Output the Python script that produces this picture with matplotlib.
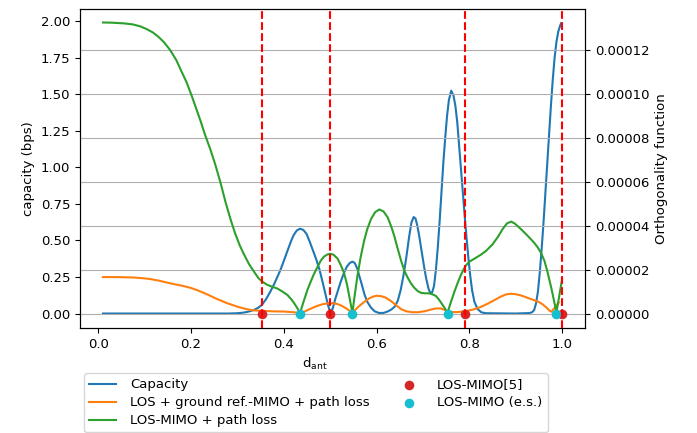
import matplotlib
matplotlib.use('Agg')
import matplotlib.pyplot as plt
import numpy as np

# capacity curve (left axis, bps)
cap_x = [0.01, 0.10, 0.20, 0.28, 0.300, 0.310, 0.320, 0.328, 0.336, 0.345, 0.353, 0.362, 0.371,
         0.379, 0.386, 0.393, 0.400, 0.408, 0.415, 0.421, 0.428, 0.435, 0.442, 0.449, 0.456,
         0.463, 0.470, 0.477, 0.484, 0.490, 0.495, 0.501, 0.506, 0.511, 0.516, 0.523, 0.530,
         0.536, 0.542, 0.548, 0.553, 0.558, 0.563, 0.568, 0.574, 0.580, 0.588, 0.596, 0.605,
         0.615, 0.625, 0.633, 0.640, 0.646, 0.652, 0.658, 0.664, 0.670, 0.675, 0.680, 0.684,
         0.688, 0.692, 0.697, 0.702, 0.707, 0.712, 0.716, 0.720, 0.724, 0.728, 0.732, 0.736,
         0.740, 0.744, 0.748, 0.752, 0.756, 0.761, 0.766, 0.770, 0.774, 0.778, 0.782, 0.786,
         0.790, 0.794, 0.798, 0.802, 0.806, 0.811, 0.818, 0.826, 0.836, 0.900, 0.930, 0.936,
         0.940, 0.944, 0.948, 0.952, 0.956, 0.960, 0.964, 0.968, 0.972, 0.976, 0.980, 0.984,
         0.988, 0.992, 0.996, 0.998]
cap_y = [0.0, 0.0, 0.0, 0.0, 0.002, 0.005, 0.01, 0.017, 0.025, 0.04, 0.06, 0.10, 0.15,
         0.20, 0.25, 0.30, 0.36, 0.43, 0.49, 0.535, 0.568, 0.58, 0.572, 0.545, 0.49,
         0.43, 0.37, 0.30, 0.21, 0.13, 0.06, 0.0, 0.04, 0.10, 0.15, 0.22, 0.28,
         0.32, 0.345, 0.355, 0.345, 0.31, 0.255, 0.20, 0.13, 0.08, 0.04, 0.015, 0.004,
         0.004, 0.015, 0.03, 0.05, 0.09, 0.16, 0.26, 0.38, 0.52, 0.62, 0.66, 0.65,
         0.60, 0.53, 0.43, 0.33, 0.24, 0.17, 0.14, 0.145, 0.19, 0.30, 0.45, 0.63,
         0.83, 1.03, 1.20, 1.35, 1.46, 1.524, 1.49, 1.42, 1.31, 1.15, 0.99, 0.83,
         0.67, 0.52, 0.38, 0.26, 0.16, 0.08, 0.03, 0.008, 0.002, 0.0, 0.003, 0.01,
         0.025, 0.07, 0.15, 0.28, 0.44, 0.62, 0.82, 1.02, 1.22, 1.42, 1.60, 1.75,
         1.86, 1.93, 1.97, 1.985]

# orthogonality function curves (right axis, x1e-5)
ground_x = [0.01, 0.04, 0.076, 0.095, 0.112, 0.130, 0.148, 0.165, 0.180, 0.199, 0.215, 0.235,
            0.255, 0.278, 0.300, 0.321, 0.337, 0.353, 0.375, 0.400, 0.420, 0.435, 0.446, 0.458,
            0.470, 0.483, 0.494, 0.505, 0.516, 0.525, 0.534, 0.541, 0.546, 0.553, 0.562, 0.573,
            0.585, 0.594, 0.601, 0.610, 0.620, 0.631, 0.642, 0.653, 0.664, 0.677, 0.690, 0.703,
            0.717, 0.728, 0.739, 0.746, 0.753, 0.762, 0.771, 0.782, 0.793, 0.810, 0.825, 0.840,
            0.855, 0.868, 0.879, 0.890, 0.900, 0.912, 0.925, 0.938, 0.948, 0.958, 0.966, 0.972,
            0.977, 0.982, 0.988, 0.993]
ground_y = [1.66, 1.66, 1.64, 1.61, 1.57, 1.50, 1.41, 1.33, 1.27, 1.17, 1.05, 0.87,
            0.67, 0.47, 0.31, 0.19, 0.14, 0.12, 0.10, 0.09, 0.06, 0.02, 0.10, 0.22,
            0.33, 0.42, 0.46, 0.47, 0.43, 0.35, 0.24, 0.14, 0.05, 0.15, 0.33, 0.52,
            0.70, 0.78, 0.81, 0.79, 0.72, 0.57, 0.38, 0.20, 0.10, 0.06, 0.06, 0.10,
            0.18, 0.23, 0.23, 0.17, 0.12, 0.07, 0.06, 0.08, 0.11, 0.19, 0.30, 0.45,
            0.62, 0.77, 0.87, 0.90, 0.88, 0.82, 0.72, 0.62, 0.55, 0.42, 0.28, 0.15,
            0.08, 0.20, 0.38, 0.50]

los_x = [0.01, 0.03, 0.055, 0.075, 0.091, 0.105, 0.118, 0.130, 0.142, 0.155, 0.168, 0.180,
         0.190, 0.200, 0.210, 0.220, 0.230, 0.242, 0.252, 0.263, 0.274, 0.285, 0.295, 0.305,
         0.314, 0.325, 0.336, 0.345, 0.353, 0.364, 0.375, 0.386, 0.397, 0.408, 0.416, 0.422,
         0.429, 0.435, 0.442, 0.451, 0.458, 0.465, 0.473, 0.480, 0.487, 0.494, 0.500, 0.507,
         0.516, 0.523, 0.530, 0.536, 0.541, 0.545, 0.548, 0.553, 0.559, 0.566, 0.573, 0.580,
         0.588, 0.597, 0.606, 0.615, 0.624, 0.631, 0.638, 0.645, 0.653, 0.660, 0.667, 0.674,
         0.681, 0.689, 0.696, 0.705, 0.713, 0.720, 0.728, 0.734, 0.739, 0.746, 0.753, 0.760,
         0.768, 0.775, 0.782, 0.788, 0.793, 0.800, 0.808, 0.815, 0.825, 0.836, 0.850, 0.862,
         0.872, 0.881, 0.890, 0.898, 0.906, 0.916, 0.930, 0.940, 0.948, 0.955, 0.962, 0.968,
         0.973, 0.977, 0.982, 0.988, 0.994, 1.0]
los_y = [13.26, 13.25, 13.22, 13.17, 13.08, 12.95, 12.80, 12.60, 12.35, 12.00, 11.55, 11.00,
         10.55, 10.00, 9.40, 8.80, 8.15, 7.45, 6.80, 6.00, 5.10, 4.30, 3.65, 3.10,
         2.70, 2.25, 1.90, 1.62, 1.46, 1.31, 1.22, 1.14, 1.00, 0.84, 0.65, 0.48,
         0.25, 0.02, 0.50, 1.08, 1.45, 1.80, 2.14, 2.42, 2.60, 2.69, 2.72, 2.68,
         2.50, 2.20, 1.84, 1.35, 0.80, 0.35, 0.05, 0.85, 1.75, 2.60, 3.30, 3.85,
         4.30, 4.62, 4.74, 4.65, 4.38, 4.00, 3.55, 3.00, 2.40, 1.95, 1.64, 1.38,
         1.18, 1.02, 0.94, 0.92, 0.92, 0.88, 0.80, 0.65, 0.50, 0.28, 0.03, 0.50,
         1.00, 1.40, 1.76, 2.02, 2.20, 2.36, 2.46, 2.55, 2.68, 2.85, 3.15, 3.50,
         3.85, 4.10, 4.19, 4.10, 3.95, 3.75, 3.45, 3.22, 3.00, 2.75, 2.40, 1.95,
         1.50, 1.15, 0.65, 0.05, 0.80, 1.55]

ref_x = [0.353, 0.5, 0.79, 1.0]       # LOS-MIMO[5]
es_x = [0.435, 0.548, 0.753, 0.987]   # LOS-MIMO (e.s.)

plt.rcParams['font.size'] = 9.5

fig = plt.figure(figsize=(6.97, 4.33), dpi=100)
ax1 = fig.add_axes([0.1148, 0.2425, 0.7245, 0.7365])
ax2 = ax1.twinx()

l1, = ax1.plot(cap_x, cap_y, color='tab:blue', lw=1.5, label='Capacity')
l2, = ax2.plot(ground_x, np.array(ground_y) * 1e-5, color='tab:orange', lw=1.5,
               label='LOS + ground ref.-MIMO + path loss')
l3, = ax2.plot(los_x, np.array(los_y) * 1e-5, color='tab:green', lw=1.5,
               label='LOS-MIMO + path loss')

s1 = ax2.scatter(ref_x, np.zeros(len(ref_x)), color='tab:red', s=35, zorder=4, label='LOS-MIMO[5]')
s2 = ax2.scatter(es_x, np.zeros(len(es_x)), color='tab:cyan', s=35, zorder=4, label='LOS-MIMO (e.s.)')
for xv in ref_x:
    ax2.axvline(xv, color='red', linestyle='--', lw=1.5, zorder=5)

ax1.set_xlim(-0.0395, 1.0495)
ax1.set_ylim(-0.099, 2.082)
ax2.set_ylim(-0.66e-5, 13.87e-5)
ax1.set_yticks([0, 0.25, 0.5, 0.75, 1.0, 1.25, 1.5, 1.75, 2.0])
ax1.set_yticklabels(['0.00', '0.25', '0.50', '0.75', '1.00', '1.25', '1.50', '1.75', '2.00'])
ax2.set_yticks([0, 2e-5, 4e-5, 6e-5, 8e-5, 10e-5, 12e-5])
ax2.set_yticklabels(['0.00000', '0.00002', '0.00004', '0.00006', '0.00008', '0.00010', '0.00012'])
ax2.grid(True)

ax1.set_xlabel(r'd$_{\mathrm{ant}}$', x=0.465)
ax1.set_ylabel('capacity (bps)')
ax2.set_ylabel('Orthogonality function')

fig.legend(handles=[l1, l2, l3, s1, s2], ncol=2, loc='upper center',
           bbox_to_anchor=(0.453, 0.1535), labelspacing=0.37, columnspacing=2.0,
           handletextpad=1.1, fontsize=9.5)

fig.savefig('out.png', dpi=100)
